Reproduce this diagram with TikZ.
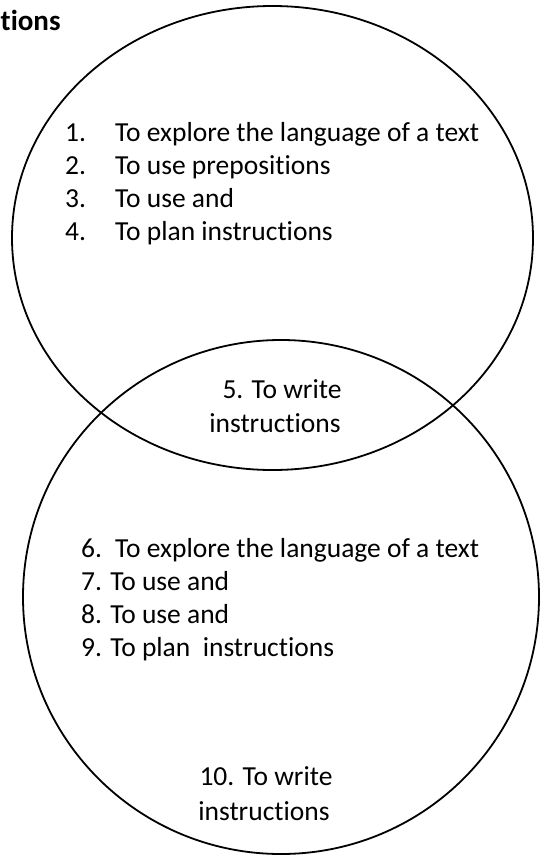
\documentclass[tikz,border=0pt]{standalone}
\usepackage{fontspec}
\setmainfont{Carlito}[Ligatures=NoCommon]
\usetikzlibrary{positioning}

\tikzset{
	lbl/.style={anchor=base west, inner sep=0pt, font=\fontsize{27.5}{33}\selectfont},
	mid/.style={anchor=base, inner sep=0pt, font=\fontsize{27.5}{33}\selectfont},
	ring/.style={line width=1.8pt}
}

\begin{document}
\begin{tikzpicture}[x=1pt, y=-1pt]
	\useasboundingbox (0,0) rectangle (539,857);
	\draw[ring] (272.5,238) ellipse [x radius=260.5, y radius=232];
	\draw[ring] (281,597) ellipse [x radius=258, y radius=257];
	\node[lbl, font=\fontsize{29}{33}\selectfont\bfseries] (title) at (0.5,30) {tions};
	% top circle
	\foreach \n/\t [count=\i] in {1./To explore the language of a text, 2./To use prepositions, 3./To use and, 4./To plan instructions} {
		\node[lbl] (num\i) at (65,141+33*\i-33) {\n};
		\node[lbl] (item\i) at (115,141+33*\i-33) {\t};
	}
	\node[mid] (both1) at (282,398) {5. To write};
	\node[mid] (both2) at (275,432) {instructions};
	% bottom circle
	\node[lbl] (num6) at (81,557) {6.};
	\node[lbl] (item6) at (115,557) {To explore the language of a text};
	\node[lbl] (item7) at (81,590) {7. To use and};
	\node[lbl] (item8) at (81,623) {8. To use and};
	\node[lbl] (item9) at (81,656) {9. To plan\ \ instructions};
	\node[mid] (last1) at (266,785) {10. To write};
	\node[mid] (last2) at (264,820) {instructions};
\end{tikzpicture}
\end{document}
